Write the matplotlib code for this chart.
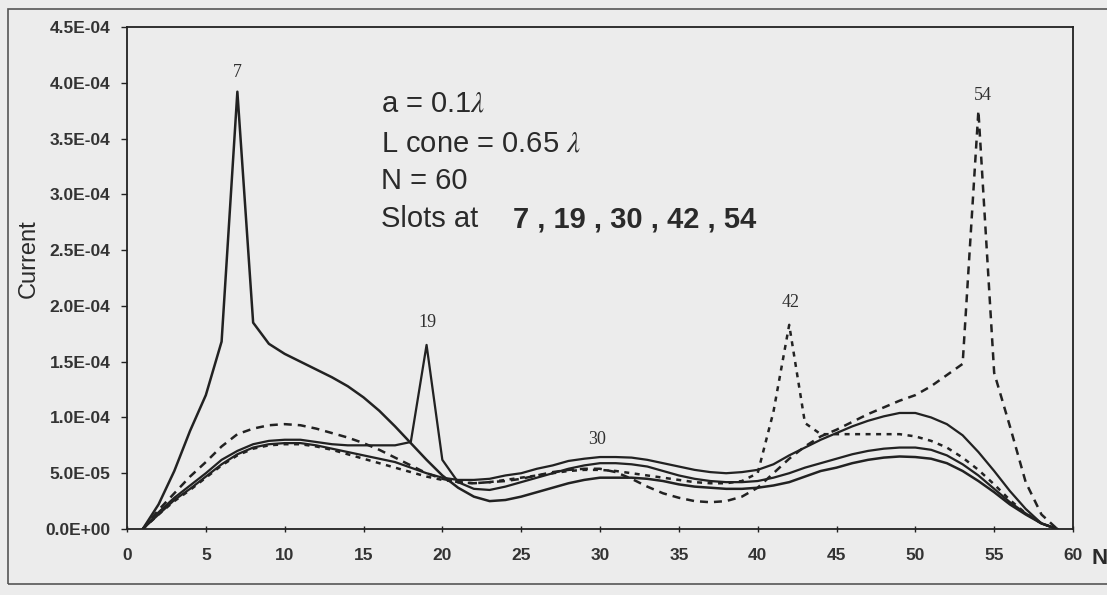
import matplotlib
matplotlib.use("Agg")
import matplotlib.pyplot as plt
from matplotlib.patches import Rectangle
import numpy as np

# ---- data ----
segments = list(range(1, 60))

slot7 = [0, 0.22, 0.52, 0.88, 1.20, 1.68, 3.92, 1.85, 1.66, 1.57, 1.50, 1.43, 1.36, 1.28, 1.18,
         1.06, 0.92, 0.77, 0.62, 0.48, 0.37, 0.29, 0.25, 0.26, 0.29, 0.33, 0.37, 0.41, 0.44, 0.46,
         0.46, 0.46, 0.45, 0.43, 0.40, 0.38, 0.37, 0.36, 0.36, 0.37, 0.39, 0.42, 0.47, 0.52, 0.55,
         0.59, 0.62, 0.64, 0.65, 0.645, 0.63, 0.59, 0.52, 0.43, 0.33, 0.22, 0.13, 0.05, 0]

slot19 = [0, 0.15, 0.28, 0.39, 0.50, 0.62, 0.70, 0.76, 0.79, 0.80, 0.80, 0.78, 0.76, 0.75, 0.75,
          0.75, 0.75, 0.78, 1.65, 0.62, 0.42, 0.36, 0.35, 0.38, 0.42, 0.46, 0.50, 0.54, 0.57, 0.59,
          0.59, 0.58, 0.56, 0.52, 0.48, 0.45, 0.43, 0.42, 0.42, 0.43, 0.46, 0.50, 0.55, 0.59, 0.63,
          0.67, 0.70, 0.72, 0.73, 0.73, 0.71, 0.66, 0.58, 0.48, 0.36, 0.24, 0.14, 0.05, 0]

slot30 = [0, 0.13, 0.26, 0.36, 0.47, 0.58, 0.67, 0.73, 0.76, 0.77, 0.77, 0.75, 0.72, 0.69, 0.66,
          0.63, 0.60, 0.55, 0.50, 0.46, 0.44, 0.44, 0.45, 0.48, 0.50, 0.54, 0.57, 0.61, 0.63, 0.645,
          0.645, 0.64, 0.62, 0.59, 0.56, 0.53, 0.51, 0.50, 0.51, 0.53, 0.58, 0.66, 0.73, 0.80, 0.86,
          0.92, 0.97, 1.01, 1.04, 1.04, 1.00, 0.94, 0.84, 0.69, 0.52, 0.34, 0.18, 0.05, 0]

slot42 = [0, 0.13, 0.25, 0.35, 0.46, 0.57, 0.66, 0.72, 0.75, 0.76, 0.76, 0.74, 0.71, 0.67, 0.63,
          0.59, 0.55, 0.51, 0.47, 0.44, 0.42, 0.41, 0.42, 0.44, 0.46, 0.48, 0.50, 0.52, 0.53, 0.53,
          0.52, 0.50, 0.48, 0.46, 0.44, 0.42, 0.41, 0.41, 0.43, 0.50, 1.05, 1.83, 0.95, 0.85, 0.85,
          0.85, 0.85, 0.85, 0.85, 0.83, 0.79, 0.73, 0.64, 0.53, 0.40, 0.26, 0.14, 0.05, 0]

slot54 = [0, 0.17, 0.32, 0.47, 0.60, 0.74, 0.85, 0.90, 0.93, 0.94, 0.93, 0.90, 0.86, 0.82, 0.77,
          0.71, 0.64, 0.57, 0.50, 0.45, 0.42, 0.41, 0.42, 0.43, 0.45, 0.48, 0.51, 0.53, 0.54, 0.54,
          0.51, 0.45, 0.38, 0.32, 0.28, 0.25, 0.24, 0.25, 0.29, 0.37, 0.50, 0.63, 0.74, 0.83, 0.89,
          0.96, 1.03, 1.09, 1.15, 1.20, 1.28, 1.38, 1.48, 3.75, 1.40, 0.92, 0.42, 0.13, 0]

scale = 1e-4
peak_labels = ["7", "19", "30", "42", "54"]
peak_x = [7.0, 19.05, 29.8, 42.1, 54.3]
peak_y = [4.09, 1.85, 0.80, 2.03, 3.89]

y_ticks = [0, 0.5e-4, 1.0e-4, 1.5e-4, 2.0e-4, 2.5e-4, 3.0e-4, 3.5e-4, 4.0e-4, 4.5e-4]
x_ticks = list(range(0, 61, 5))

info_lines = ["a = 0.1$\\lambda$", "L cone = 0.65 $\\lambda$", "N = 60"]

# ---- figure ----
plt.rcParams['mathtext.fontset'] = 'stix'
bg = '#ececec'
ink = '#222222'
txt = '#2a2a2a'
W, H = 1107, 595
fig = plt.figure(figsize=(W/100, H/100), dpi=100, facecolor=bg)
ax = fig.add_axes([127/W, 1-529/H, (1073-127)/W, (529-27)/H])
ax.set_facecolor(bg)

x = np.array(segments)
lw = 1.8
ax.plot(x, np.array(slot7)*scale, color=ink, lw=lw)
ax.plot(x, np.array(slot19)*scale, color=ink, lw=lw*0.9)
ax.plot(x, np.array(slot30)*scale, color=ink, lw=lw*0.9)
ax.plot(x, np.array(slot42)*scale, color=ink, lw=lw, dashes=(2.0, 2.2))
ax.plot(x, np.array(slot54)*scale, color=ink, lw=lw, dashes=(3.2, 2.4))

ax.set_xlim(0, 60)
ax.set_ylim(0, 4.5e-4)
ax.set_xticks(x_ticks)
ax.set_xticklabels([str(t) for t in x_ticks])
ax.set_yticks(y_ticks)
ax.set_yticklabels([f"{v:.1E}" for v in y_ticks])

for lab in ax.get_yticklabels() + ax.get_xticklabels():
    lab.set_fontfamily('Liberation Sans')
    lab.set_fontweight('bold')
    lab.set_fontsize(12.5)
    lab.set_color('#333333')

ax.tick_params(axis='y', direction='out', length=4, width=1, pad=8, color=ink)
ax.tick_params(axis='x', direction='inout', length=5, width=1, pad=11, color=ink)
for s in ax.spines.values():
    s.set_color(ink)
    s.set_linewidth(1.3)

# peak labels
for lab, px, py in zip(peak_labels, peak_x, peak_y):
    ax.text(px, py*scale, lab, ha='center', va='center', fontsize=13,
            fontfamily='Liberation Serif', color='#303030')

# info block
left = 381
ys = [104, 143, 181, 219]
for line, yy in zip(info_lines, ys[:3]):
    fig.text(left/W, 1-yy/H, line, ha='left', va='center', fontsize=21,
             fontfamily='Liberation Sans', color=txt)
fig.text(left/W, 1-ys[3]/H, "Slots at", ha='left', va='center', fontsize=21,
         fontfamily='Liberation Sans', color=txt)
fig.text(513/W, 1-ys[3]/H, "7 , 19 , 30 , 42 , 54", ha='left', va='center',
         fontsize=21, fontfamily='Liberation Sans', fontweight='bold', color=txt)

fig.text(29/W, 1-259/H, "Current", rotation=90, ha='center', va='center',
         fontsize=17, fontfamily='Liberation Sans', color=txt)
fig.text(1100/W, 1-558/H, "N", ha='center', va='center', fontsize=16,
         fontfamily='Liberation Sans', fontweight='bold', color=txt)

# outer chart frame
fig.patches.append(Rectangle((8/W, 1-584/H), 1.2, (584-9)/H, transform=fig.transFigure,
                             fill=False, edgecolor='#555555', lw=1.2))

fig.savefig("out.png", dpi=100, facecolor=bg)
